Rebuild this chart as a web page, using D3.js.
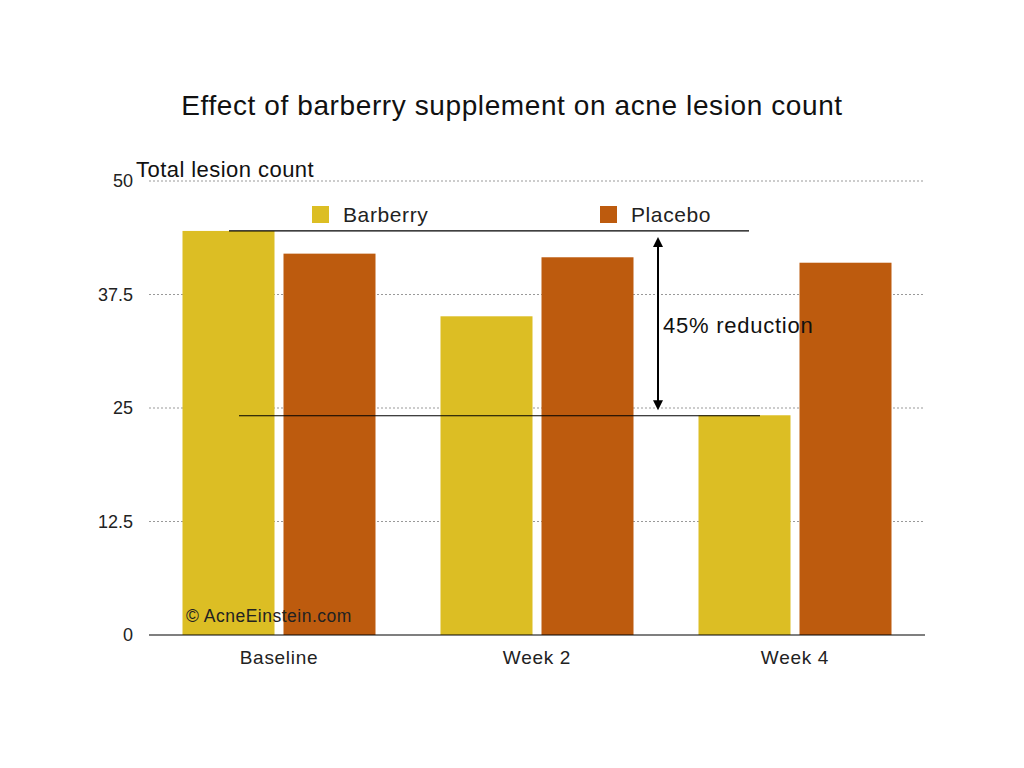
<!DOCTYPE html>
<html>
<head>
<meta charset="utf-8">
<script src="https://cdn.jsdelivr.net/npm/d3@7"></script>
<style>
  html, body { margin: 0; padding: 0; background: #fff; }
  svg { display: block; font-family: "Liberation Sans", "Helvetica Neue", Arial, sans-serif; }
</style>
</head>
<body>
<svg id="chart" width="1024" height="768"></svg>
<script>
const categories = ["Baseline", "Week 2", "Week 4"];
const seriesNames = ["Barberry", "Placebo"];
const barberry = [44.5, 35.1, 24.2];
const placebo = [42.0, 41.6, 41.0];
const yTicks = [0, 12.5, 25, 37.5, 50];
const colors = ["#DCBE24", "#BD5B0E"];
const title = "Effect of barberry supplement on acne lesion count";
const yTitle = "Total lesion count";
const annotation = "45% reduction";
const credit = "© AcneEinstein.com";

(function () {
const svg = d3.select("#chart");
const plotL = 150, plotR = 924, plotT = 181, plotB = 635;

const x = d3.scaleBand().domain(categories).range([plotL, plotR]).paddingInner(0).paddingOuter(0);
const x1 = d3.scaleBand().domain(seriesNames).range([32.5, 258 - 32.5]).paddingInner(0.089);
const y = d3.scaleLinear().domain([0, 50]).range([plotB, plotT]);

// gridlines
svg.append("g").selectAll("line").data(yTicks.filter(d => d > 0)).join("line")
  .attr("x1", plotL - 1).attr("x2", plotR + 1)
  .attr("y1", d => y(d)).attr("y2", d => y(d))
  .attr("stroke", "#999").attr("stroke-width", 1).attr("stroke-dasharray", "2,2");

// y tick labels
svg.append("g").selectAll("text").data(yTicks).join("text")
  .attr("x", 133).attr("y", d => y(d)).attr("dy", "0.35em")
  .attr("text-anchor", "end").attr("font-size", 18).attr("fill", "#222")
  .text(d => d);

// bars
const data = categories.map((c, i) => ({ cat: c, vals: [barberry[i], placebo[i]] }));
const groups = svg.append("g").selectAll("g").data(data).join("g")
  .attr("transform", d => `translate(${x(d.cat)},0)`);
groups.selectAll("rect").data(d => d.vals.map((v, j) => ({ s: seriesNames[j], v, j }))).join("rect")
  .attr("x", d => x1(d.s)).attr("width", x1.bandwidth())
  .attr("y", d => y(d.v)).attr("height", d => y(0) - y(d.v))
  .attr("fill", d => colors[d.j]);

// baseline axis
svg.append("line").attr("x1", plotL - 1).attr("x2", plotR + 1)
  .attr("y1", plotB).attr("y2", plotB).attr("stroke", "#000").attr("stroke-width", 1.2);

// x labels
svg.append("g").selectAll("text").data(categories).join("text")
  .attr("x", d => x(d) + x.bandwidth() / 2).attr("y", 657).attr("dy", "0.35em")
  .attr("text-anchor", "middle").attr("font-size", 19).attr("letter-spacing", 0.7).attr("fill", "#222")
  .text(d => d);

// title
svg.append("text").attr("x", 512).attr("y", 105).attr("dy", "0.35em")
  .attr("text-anchor", "middle").attr("font-size", 28).attr("letter-spacing", 0.6).attr("fill", "#111").text(title);

// y title
svg.append("text").attr("x", 136).attr("y", 169).attr("dy", "0.35em")
  .attr("font-size", 22).attr("letter-spacing", 0.45).attr("fill", "#111").text(yTitle);

// legend
const legendX = [312, 600];
seriesNames.forEach((s, i) => {
  svg.append("rect").attr("x", legendX[i]).attr("y", 206).attr("width", 17).attr("height", 17).attr("fill", colors[i]);
  svg.append("text").attr("x", legendX[i] + 31).attr("y", 214.5).attr("dy", "0.35em")
    .attr("font-size", 21).attr("letter-spacing", 0.6).attr("fill", "#222").text(s);
});

// reference lines
svg.append("line").attr("x1", 229).attr("x2", 749)
  .attr("y1", y(barberry[0])).attr("y2", y(barberry[0])).attr("stroke", "#000").attr("stroke-width", 1.2);
svg.append("line").attr("x1", 239).attr("x2", 760)
  .attr("y1", y(barberry[2]) + 0.5).attr("y2", y(barberry[2]) + 0.5).attr("stroke", "#000").attr("stroke-width", 1.2);

// double arrow
const ax = 658;
const yTop = y(barberry[0]) + 6, yBot = y(barberry[2]) - 5;
svg.append("line").attr("x1", ax).attr("x2", ax).attr("y1", yTop + 8).attr("y2", yBot - 8)
  .attr("stroke", "#000").attr("stroke-width", 2);
svg.append("path").attr("d", `M${ax},${yTop} L${ax - 5},${yTop + 10} L${ax + 5},${yTop + 10} Z`).attr("fill", "#000");
svg.append("path").attr("d", `M${ax},${yBot} L${ax - 5},${yBot - 10} L${ax + 5},${yBot - 10} Z`).attr("fill", "#000");

svg.append("text").attr("x", 663).attr("y", 325).attr("dy", "0.35em")
  .attr("font-size", 22).attr("letter-spacing", 0.75).attr("fill", "#111").text(annotation);

// credit
svg.append("text").attr("x", 186).attr("y", 616).attr("dy", "0.35em")
  .attr("font-size", 17.5).attr("letter-spacing", 0.5).attr("fill", "#222").text(credit);
})();
</script>
</body>
</html>
